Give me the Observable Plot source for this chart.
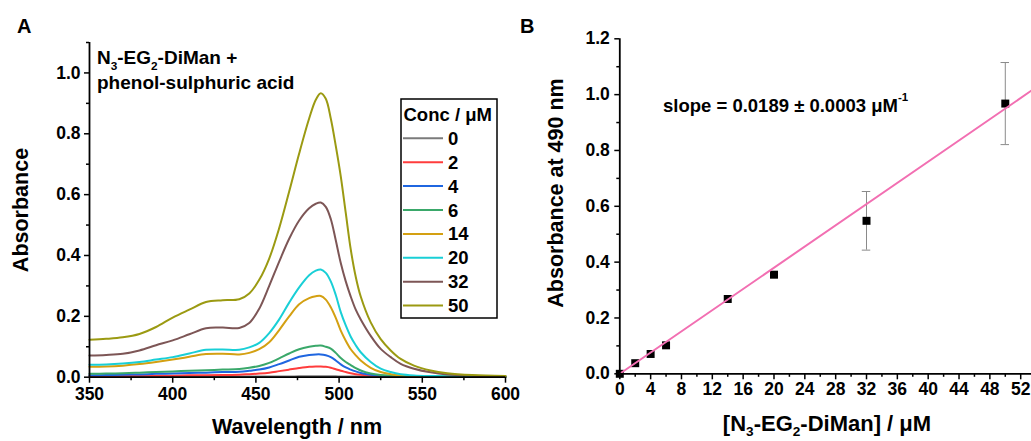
<!DOCTYPE html>
<html>
<head>
<meta charset="utf-8">
<script src="https://cdn.jsdelivr.net/npm/d3@7"></script>
<script src="https://cdn.jsdelivr.net/npm/@observablehq/plot@0.6"></script>
<style>
  html, body { margin: 0; padding: 0; background: #fff; }
  #wrap { position: relative; width: 1031px; height: 441px; overflow: hidden; font-family: "Liberation Sans", Arial, sans-serif; }
  #wrap > svg { position: absolute; top: 0; }
</style>
</head>
<body>
<div id="wrap"></div>
<script>
// ---------- Panel A data ----------
const wavelengths = [350,360,370,380,390,400,410,420,430,440,446,452,458,464,470,476,482,486,489,492,495,498,501,504,507,510,513,519,525,531,537,545,555,565,580,600];
const concs = [0, 2, 4, 6, 14, 20, 32, 50];
const concColors = ["#7b7b7b", "#ff3c3c", "#1f66e0", "#3aa86a", "#d4a012", "#19cfd6", "#7d5656", "#9b9a12"];
const abs0  = [0.002,0.002,0.002,0.002,0.002,0.002,0.002,0.002,0.002,0.002,0.002,0.002,0.002,0.002,0.002,0.003,0.003,0.003,0.003,0.003,0.003,0.003,0.002,0.002,0.002,0.002,0.002,0.001,0.001,0.001,0.001,0.001,0.001,0.001,0.001,0.001];
const abs2  = [0.003,0.003,0.004,0.004,0.005,0.005,0.006,0.006,0.007,0.008,0.010,0.012,0.015,0.020,0.025,0.030,0.034,0.035,0.035,0.034,0.031,0.026,0.021,0.017,0.013,0.010,0.008,0.005,0.003,0.002,0.002,0.002,0.001,0.001,0.001,0.001];
const abs4  = [0.006,0.007,0.008,0.009,0.011,0.012,0.014,0.015,0.017,0.018,0.021,0.025,0.032,0.043,0.055,0.067,0.073,0.075,0.075,0.072,0.066,0.055,0.042,0.032,0.025,0.019,0.014,0.008,0.005,0.004,0.003,0.002,0.002,0.001,0.001,0.001];
const abs6  = [0.011,0.012,0.013,0.015,0.017,0.019,0.021,0.023,0.025,0.027,0.031,0.037,0.047,0.062,0.078,0.092,0.100,0.103,0.104,0.100,0.094,0.080,0.063,0.050,0.040,0.030,0.022,0.012,0.007,0.005,0.004,0.003,0.002,0.002,0.001,0.001];
const abs14 = [0.034,0.035,0.038,0.043,0.050,0.058,0.067,0.076,0.077,0.075,0.080,0.092,0.115,0.155,0.200,0.240,0.260,0.266,0.267,0.255,0.230,0.195,0.153,0.120,0.092,0.072,0.055,0.031,0.017,0.010,0.006,0.004,0.003,0.002,0.002,0.002];
const abs20 = [0.041,0.042,0.045,0.050,0.058,0.066,0.078,0.090,0.091,0.090,0.098,0.113,0.145,0.190,0.245,0.295,0.335,0.350,0.354,0.343,0.315,0.270,0.214,0.170,0.133,0.105,0.082,0.050,0.028,0.017,0.010,0.006,0.004,0.003,0.002,0.002];
const abs32 = [0.071,0.073,0.077,0.088,0.105,0.121,0.141,0.161,0.163,0.162,0.178,0.225,0.300,0.380,0.455,0.515,0.555,0.570,0.574,0.560,0.520,0.450,0.375,0.315,0.265,0.222,0.190,0.136,0.093,0.066,0.044,0.028,0.016,0.009,0.005,0.003];
const abs50 = [0.123,0.126,0.131,0.142,0.165,0.196,0.222,0.247,0.253,0.256,0.275,0.320,0.390,0.490,0.610,0.735,0.850,0.912,0.933,0.915,0.850,0.760,0.660,0.540,0.420,0.330,0.265,0.180,0.125,0.088,0.060,0.038,0.022,0.013,0.007,0.004];
const spectra = [abs0, abs2, abs4, abs6, abs14, abs20, abs32, abs50];
const xTicksA = [350, 400, 450, 500, 550, 600];
const xMinorA = [375, 425, 475, 525, 575];
const yTicksA = [0, 0.2, 0.4, 0.6, 0.8, 1.0];
const yMinorA = [0.1, 0.3, 0.5, 0.7, 0.9, 1.1];

// ---------- Panel B data ----------
const concB = [0, 2, 4, 6, 14, 20, 32, 50];
const absB  = [0.0, 0.038, 0.071, 0.102, 0.268, 0.355, 0.548, 0.968];
const errB  = [0, 0, 0, 0, 0, 0, 0.105, 0.147];
const fitSlope = 0.019;
const fitIntercept = 0;
const xTicksB = [0,4,8,12,16,20,24,28,32,36,40,44,48,52];
const xMinorB = [2,6,10,14,18,22,26,30,34,38,42,46,50];
const yTicksB = [0, 0.2, 0.4, 0.6, 0.8, 1.0, 1.2];
const yMinorB = [0.1, 0.3, 0.5, 0.7, 0.9, 1.1];

const FONT = "'Liberation Sans', Arial, sans-serif";
const wrap = document.getElementById("wrap");

const specRows = [];
concs.forEach((c, i) => spectra[i].forEach((v, j) => specRows.push({conc: String(c), wl: wavelengths[j], a: v})));

const styleCommon = {fontFamily: FONT, fontSize: "17.5px", fontWeight: "bold", color: "#000", background: "transparent", overflow: "visible"};

const plotA = Plot.plot({
  width: 520, height: 441,
  marginLeft: 89, marginRight: 15, marginTop: 42, marginBottom: 64.3,
  x: {domain: [350, 600], label: null},
  y: {domain: [0, 1.1], label: null},
  color: {type: "ordinal", domain: concs.map(String), range: concColors},
  style: styleCommon,
  marks: [
    Plot.line(specRows, {x: "wl", y: "a", z: "conc", stroke: "conc", strokeWidth: 2, curve: "catmull-rom"}),
    Plot.axisX({ticks: xTicksA, tickSize: 6, tickPadding: 4, strokeWidth: 1.5, tickFormat: d => String(d), label: null}),
    Plot.axisX({ticks: xMinorA, tickSize: 3.5, strokeWidth: 1.5, tickFormat: () => "", label: null}),
    Plot.axisY({ticks: yTicksA, tickSize: 5, tickPadding: 4, strokeWidth: 1.5, tickFormat: d3.format(".1f"), label: null}),
    Plot.axisY({ticks: yMinorA, tickSize: 3, strokeWidth: 1.5, tickFormat: () => "", label: null}),
    Plot.ruleY([0], {stroke: "#000", strokeWidth: 1.8}),
    Plot.ruleX([350], {stroke: "#000", strokeWidth: 1.8})
  ]
});
plotA.style.left = "0px";
wrap.appendChild(plotA);

const fitRows = [0, 53.4].map(x => ({x, y: fitIntercept + fitSlope * x}));
const ptRows = concB.map((c, i) => ({x: c, y: absB[i], e: errB[i]}));
const errRows = ptRows.filter(d => d.e > 0);

const plotB = Plot.plot({
  width: 511, height: 441,
  marginLeft: 99.3, marginRight: 0, marginTop: 38.3, marginBottom: 67.7,
  x: {domain: [0, 53.4], label: null},
  y: {domain: [0, 1.2], label: null},
  style: styleCommon,
  marks: [
    Plot.ruleX(errRows, {x: "x", y1: d => d.y - d.e, y2: d => d.y + d.e, stroke: "#8a8a8a", strokeWidth: 1}),
    Plot.ruleY(errRows, {y: d => d.y - d.e, x1: d => d.x - 0.55, x2: d => d.x + 0.55, stroke: "#8a8a8a", strokeWidth: 1}),
    Plot.ruleY(errRows, {y: d => d.y + d.e, x1: d => d.x - 0.55, x2: d => d.x + 0.55, stroke: "#8a8a8a", strokeWidth: 1}),
    Plot.dot(ptRows, {x: "x", y: "y", symbol: "square", r: 4.5, fill: "#000", stroke: "none"}),
    Plot.line(fitRows, {x: "x", y: "y", stroke: "#f26fb2", strokeWidth: 2}),
    Plot.axisX({ticks: xTicksB, tickSize: 6, tickPadding: 3, strokeWidth: 1.5, tickFormat: d => String(d), label: null}),
    Plot.axisX({ticks: xMinorB, tickSize: 3.5, strokeWidth: 1.5, tickFormat: () => "", label: null}),
    Plot.axisY({ticks: yTicksB, tickSize: 5, tickPadding: 5, strokeWidth: 1.5, tickFormat: d3.format(".1f"), label: null}),
    Plot.axisY({ticks: yMinorB, tickSize: 3, strokeWidth: 1.5, tickFormat: () => "", label: null}),
    Plot.ruleY([0], {stroke: "#000", strokeWidth: 1.8}),
    Plot.ruleX([0], {stroke: "#000", strokeWidth: 1.8})
  ]
});
plotB.style.left = "520px";
wrap.appendChild(plotB);

// ---------- Annotations ----------
function addText(svg, x, y, parts, opts = {}) {
  const size = opts.size || 16;
  const sub = opts.sub || 0.3;
  const t = d3.select(svg).append("text")
    .attr("x", x).attr("y", y)
    .attr("font-family", FONT).attr("font-weight", "bold")
    .attr("font-size", size)
    .attr("fill", "#000")
    .attr("text-anchor", opts.anchor || "start");
  if (opts.rotate) t.attr("transform", `rotate(${opts.rotate},${x},${y})`);
  parts.forEach(p => {
    const [s, kind] = Array.isArray(p) ? p : [p, null];
    const ts = t.append("tspan").text(s);
    if (kind === "sub") ts.attr("font-size", size * 0.62).attr("dy", size * sub);
    else if (kind === "sup") ts.attr("font-size", size * 0.62).attr("dy", -size * 0.6);
    else if (kind === "back") ts.attr("dy", -size * sub);
  });
  return t;
}

// Panel A texts
addText(plotA, 17, 33, ["A"], {size: 20});
addText(plotA, 97, 64, ["N", ["3", "sub"], ["-EG", "back"], ["2", "sub"], ["-DiMan +", "back"]], {size: 19});
addText(plotA, 97, 89, ["phenol-sulphuric acid"], {size: 19});
addText(plotA, 28, 210, ["Absorbance"], {size: 21.5, anchor: "middle", rotate: -90});
addText(plotA, 297, 434, ["Wavelength / nm"], {size: 21.5, anchor: "middle"});

// Legend
const gA = d3.select(plotA);
gA.append("rect").attr("x", 401).attr("y", 99).attr("width", 96).attr("height", 219)
  .attr("fill", "#fff").attr("stroke", "#000").attr("stroke-width", 1.5);
addText(plotA, 403.5, 121, ["Conc / μM"], {size: 18.5});
concs.forEach((c, i) => {
  const yy = 138.3 + i * 23.9;
  gA.append("line").attr("x1", 403).attr("x2", 443).attr("y1", yy).attr("y2", yy)
    .attr("stroke", concColors[i]).attr("stroke-width", 2);
  addText(plotA, 448, yy + 6.5, [String(c)], {size: 18.5});
});

// Panel B texts
addText(plotB, 0, 33, ["B"], {size: 20});
addText(plotB, 663 - 520, 112, ["slope = 0.0189 ± 0.0003 μM", ["-1", "sup"]], {size: 18.5});
addText(plotB, 563 - 520, 193, ["Absorbance at 490 nm"], {size: 21.5, anchor: "middle", rotate: -90});
addText(plotB, 827 - 520, 431, ["[N", ["3", "sub"], ["-EG", "back"], ["2", "sub"], ["-DiMan] / μM", "back"]], {size: 22, anchor: "middle", sub: 0.22});
</script>
</body>
</html>
